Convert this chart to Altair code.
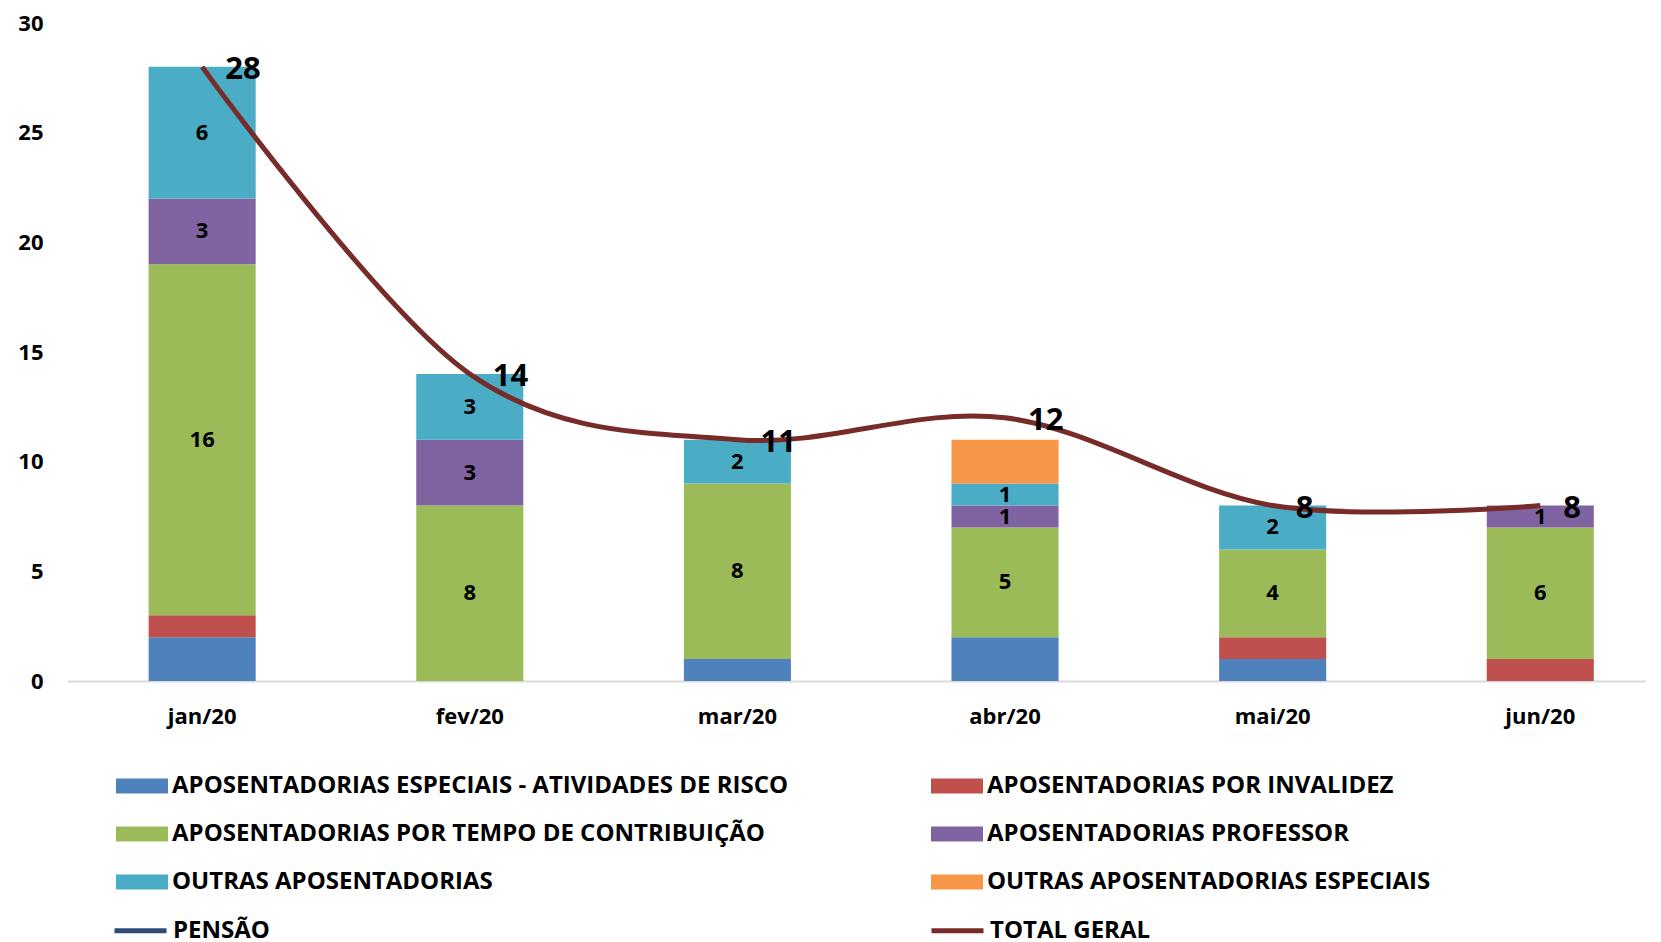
import altair as alt
import pandas as pd

months = ["jan/20", "fev/20", "mar/20", "abr/20", "mai/20", "jun/20"]

bar_series = [
    "APOSENTADORIAS ESPECIAIS - ATIVIDADES DE RISCO",
    "APOSENTADORIAS POR INVALIDEZ",
    "APOSENTADORIAS POR TEMPO DE CONTRIBUIÇÃO",
    "APOSENTADORIAS PROFESSOR",
    "OUTRAS APOSENTADORIAS",
    "OUTRAS APOSENTADORIAS ESPECIAIS",
]
especiais_risco = [2, None, 1, 2, 1, None]
invalidez = [1, None, None, None, 1, 1]
tempo_contribuicao = [16, 8, 8, 5, 4, 6]
professor = [3, 3, None, 1, None, 1]
outras = [6, 3, 2, 1, 2, None]
outras_especiais = [None, None, None, 2, None, None]

line_series = ["PENSÃO", "TOTAL GERAL"]
pensao = [None, None, None, 1, None, None]
total_geral = [28, 14, 11, 12, 8, 8]

labeled_series = [bar_series[2], bar_series[3], bar_series[4]]

bar_colors = ["#4F81BD", "#C0504D", "#9BBB59", "#8064A2", "#4BACC6", "#F79646"]
line_colors = ["#2C4D75", "#772C2A"]
y_ticks = [0, 5, 10, 15, 20, 25, 30]

# legend is filled column by column: reorder so it reads row by row
legend_order = [0, 2, 4, 1, 3, 5]
legend_domain = [bar_series[i] for i in legend_order]
legend_range = [bar_colors[i] for i in legend_order]

FONT = "Open Sans"

bar_values = [especiais_risco, invalidez, tempo_contribuicao, professor, outras, outras_especiais]
bar_rows = []
for k, (name, vals) in enumerate(zip(bar_series, bar_values)):
    for m, v in zip(months, vals):
        if v is not None:
            bar_rows.append({"month": m, "series": name, "value": v, "ord": k})
bars_df = pd.DataFrame(bar_rows)

line_rows = []
for name, vals in zip(line_series, [pensao, total_geral]):
    for m, v in zip(months, vals):
        if v is not None:
            line_rows.append({"month": m, "series": name, "value": v})
lines_df = pd.DataFrame(line_rows)
total_df = lines_df[lines_df["series"] == "TOTAL GERAL"]

x_enc = alt.X(
    "month:N",
    sort=months,
    scale=alt.Scale(domain=months, paddingInner=0.6, paddingOuter=0.25, align=0.61),
    axis=alt.Axis(
        title=None,
        labelAngle=0,
        labelFont=FONT,
        labelFontSize=22,
        labelFontWeight="bold",
        labelColor="#000000",
        labelPadding=25,
        ticks=False,
        domainColor="#D9D9D9",
        domainWidth=2,
        grid=False,
    ),
)

y_scale = alt.Scale(domain=[0, 30], nice=False, zero=True)

bars = (
    alt.Chart(bars_df)
    .mark_bar()
    .encode(
        x=x_enc,
        y=alt.Y(
            "value:Q",
            stack="zero",
            scale=y_scale,
            axis=alt.Axis(
                title=None,
                values=y_ticks,
                labelFont=FONT,
                labelFontSize=22,
                labelFontWeight="bold",
                labelColor="#000000",
                labelPadding=24,
                ticks=False,
                domain=False,
                grid=False,
            ),
        ),
        fill=alt.Fill(
            "series:N",
            scale=alt.Scale(domain=legend_domain, range=legend_range),
            legend=alt.Legend(
                title=None,
                orient="none",
                legendX=62,
                legendY=750,
                columns=2,
                columnPadding=142,
                rowPadding=23,
                padding=0,
                symbolType="M-2,-0.577H2V0.577H-2Z",
                symbolSize=676,
                symbolStrokeWidth=0,
                symbolOpacity=1,
                labelFont=FONT,
                labelFontSize=24,
                labelFontWeight="bold",
                labelColor="#000000",
                labelLimit=1000,
                labelOffset=17,
            ),
        ),
        order=alt.Order("ord:Q", sort="ascending"),
    )
)

seg_labels = (
    alt.Chart(bars_df)
    .transform_stack(
        stack="value",
        groupby=["month"],
        as_=["v0", "v1"],
        sort=[alt.SortField("ord", order="ascending")],
    )
    .transform_calculate(mid="(datum.v0 + datum.v1) / 2")
    .transform_filter(alt.FieldOneOfPredicate(field="series", oneOf=labeled_series))
    .mark_text(font=FONT, fontSize=22, fontWeight="bold", color="#000000", baseline="middle", align="center")
    .encode(x=x_enc, y=alt.Y("mid:Q", scale=y_scale, title=None), text=alt.Text("value:Q"))
)

lines = (
    alt.Chart(lines_df)
    .mark_line(interpolate="cardinal", strokeWidth=5)
    .encode(
        x=x_enc,
        y=alt.Y("value:Q", stack=None, scale=y_scale, title=None),
        stroke=alt.Stroke(
            "series:N",
            scale=alt.Scale(domain=line_series, range=line_colors),
            legend=alt.Legend(
                title=None,
                orient="none",
                legendX=58,
                legendY=750 + 3 * 48 - 2,
                columns=2,
                columnPadding=651,
                rowPadding=23,
                padding=0,
                symbolType="M-2,0H2",
                symbolSize=676,
                symbolStrokeWidth=5,
                labelFont=FONT,
                labelFontSize=24,
                labelFontWeight="bold",
                labelColor="#000000",
                labelLimit=1000,
                labelOffset=17,
            ),
        ),
    )
)

total_labels = (
    alt.Chart(total_df)
    .mark_text(font=FONT, fontSize=31, fontWeight="bold", color="#000000", dx=23, dy=3, baseline="middle", align="left")
    .encode(x=x_enc, y=alt.Y("value:Q", scale=y_scale, title=None), text=alt.Text("value:Q"))
)

chart = (
    alt.layer(bars, seg_labels, lines, total_labels)
    .properties(
        width=1579,
        height=658,
        padding={"left": 9, "top": 4, "right": 0, "bottom": 0},
        background="#FFFFFF",
    )
    .configure_view(stroke=None)
)

chart.save("out.html", embed_options={"renderer": "svg", "actions": False})
